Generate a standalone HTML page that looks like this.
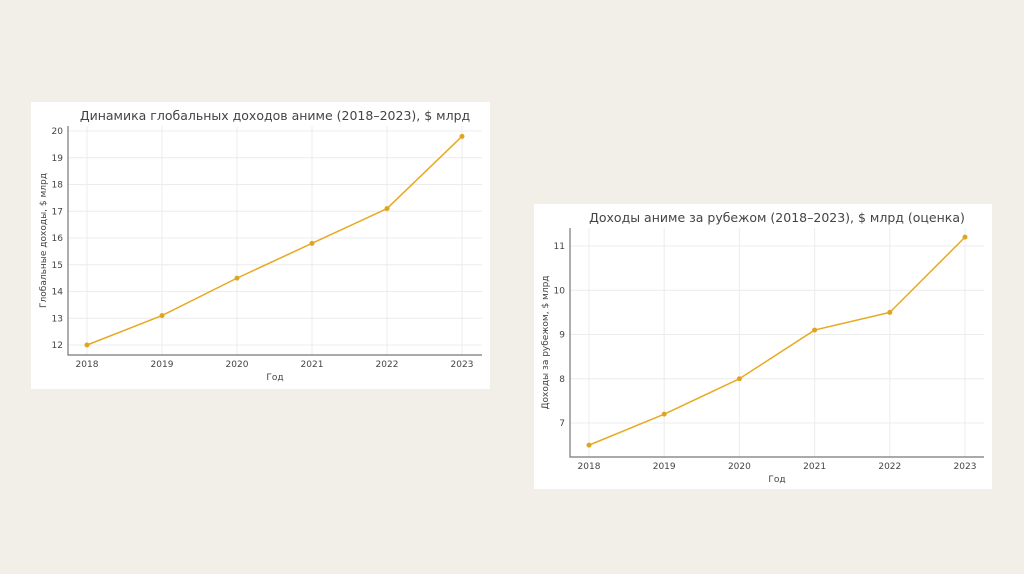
<!DOCTYPE html>
<html><head><meta charset="utf-8"><style>
body{margin:0;width:1024px;height:574px;background:#f2efe9;overflow:hidden;font-family:"DejaVu Sans","Liberation Sans",sans-serif}
svg{position:absolute;left:0;top:0}
</style></head><body>
<svg id="s" width="1024" height="574"></svg>
<script>
const years=[2018,2019,2020,2021,2022,2023];
const globalVals=[12,13.1,14.5,15.8,17.1,19.8];
const globalTicks=[12,13,14,15,16,17,18,19,20];
const overseasVals=[6.5,7.2,8.0,9.1,9.5,11.2];
const overseasTicks=[7,8,9,10,11];
const NS="http://www.w3.org/2000/svg";
const svg=document.getElementById('s');
function el(t,a,p){const e=document.createElementNS(NS,t);for(const k in a)e.setAttribute(k,a[k]);(p||svg).appendChild(e);return e;}
function chart(cfg,vals,ticks,name){
  const g=el('g',{});
  
  
  const bg=el('rect',{x:cfg.bx,y:cfg.by,width:cfg.bw,height:cfg.bh,fill:'#fff'},g);
  
  
  const xs=y=>cfg.x0+(y-years[0])*(cfg.x1-cfg.x0)/(years[years.length-1]-years[0]);
  const ys=v=>cfg.yA+(v-cfg.vA)*(cfg.yB-cfg.yA)/(cfg.vB-cfg.vA);
  years.forEach(y=>{
    const l=el('line',{x1:xs(y),x2:xs(y),y1:cfg.top,y2:cfg.bot,stroke:'#ececec','stroke-width':1},g);
    
    const t=el('text',{x:xs(y),y:cfg.bot+12,'font-size':9,fill:'#444','text-anchor':'middle'},g);t.textContent=y;
    
  });
  ticks.forEach(v=>{
    const l=el('line',{x1:cfg.left,x2:cfg.right,y1:ys(v),y2:ys(v),stroke:'#ececec','stroke-width':1},g);
    
    const t=el('text',{x:cfg.left-5,y:ys(v)+3,'font-size':9,fill:'#444','text-anchor':'end'},g);t.textContent=v;
    
  });
  const ax=el('path',{d:`M${cfg.left},${cfg.top}V${cfg.bot}H${cfg.right}`,stroke:'#777',fill:'none','stroke-width':1.2},g);
  
  const ln=el('polyline',{points:vals.map((v,i)=>xs(years[i])+','+ys(v)).join(' '),fill:'none',stroke:'#e8a920','stroke-width':1.5},g);
  
  vals.forEach((v,i)=>{const c=el('circle',{cx:xs(years[i]),cy:ys(v),r:2.5,fill:'#e0a520'},g);
    });
  const ti=el('text',{x:(cfg.left+cfg.right)/2,y:cfg.top-6,'font-size':12.5,fill:'#444','text-anchor':'middle'},g);ti.textContent=cfg.title;
  
  const xl=el('text',{x:(cfg.left+cfg.right)/2,y:cfg.bot+25,'font-size':9,fill:'#444','text-anchor':'middle'},g);xl.textContent='Год';
  
  const cy=(cfg.top+cfg.bot)/2;
  const yl=el('text',{x:cfg.ylx,y:cy,'font-size':9,fill:'#444','text-anchor':'middle',transform:`rotate(-90 ${cfg.ylx} ${cy})`},g);yl.textContent=cfg.ylabel;
  
}
chart({bx:31,by:102,bw:459,bh:287,left:68,right:482,top:126,bot:355,x0:87,x1:462,yA:345,vA:12,yB:131,vB:20,ylx:46,
  title:'Динамика глобальных доходов аниме (2018–2023), $ млрд',ylabel:'Глобальные доходы, $ млрд'},globalVals,globalTicks,'global-revenue-chart');
chart({bx:534,by:204,bw:458,bh:285,left:570,right:984,top:228,bot:457,x0:589,x1:965,yA:423,vA:7,yB:246,vB:11,ylx:548,
  title:'Доходы аниме за рубежом (2018–2023), $ млрд (оценка)',ylabel:'Доходы за рубежом, $ млрд'},overseasVals,overseasTicks,'overseas-revenue-chart');
</script>
</body></html>
